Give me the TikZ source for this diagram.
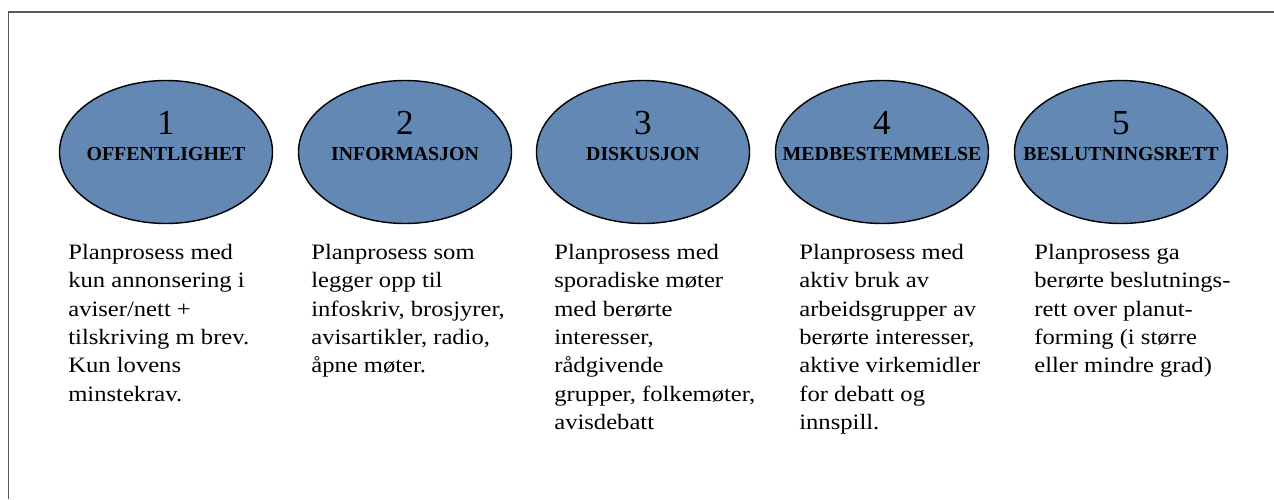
\documentclass[tikz,border=0pt]{standalone}
\usepackage{fontspec}
\setmainfont{Liberation Serif}
\newfontfamily\bodyfont[FakeStretch=1.12]{Liberation Serif}
\usetikzlibrary{shapes}

\definecolor{ovalblue}{RGB}{99,136,180}
\definecolor{framegray}{RGB}{90,90,90}

\tikzset{
  oval/.style={ellipse, draw=black, line width=0.8pt, fill=ovalblue,
    minimum width=4.26cm, minimum height=2.86cm, inner sep=0pt},
  numtext/.style={font=\fontsize{20}{20}\selectfont, inner sep=0pt},
  titletext/.style={font=\bfseries\fontsize{11.3}{11.3}\selectfont, inner sep=0pt},
  desc/.style={anchor=north west, align=left, inner sep=0pt,
    font=\bodyfont\fontsize{12.5}{16.1}\selectfont}
}

\begin{document}
\begin{tikzpicture}
      \useasboundingbox (0, 0) rectangle (25.48, -9.98);

      % Ramme
      \draw[framegray, line width=0.9pt] (0.17, -9.98) -- (0.17, -0.24) -- (25.48, -0.24);

      % Ovaler
      \node[oval] (O1) at (3.32, -3.04) {};
      \node[oval] (O2) at (8.10, -3.04) {};
      \node[oval] (O3) at (12.86, -3.04) {};
      \node[oval] (O4) at (17.64, -3.04) {};
      \node[oval] (O5) at (22.42, -3.04) {};

      % Nummer og trinn
      \node[numtext] (N1) at (3.32, -2.46) {1};
      \node[numtext] (N2) at (8.10, -2.46) {2};
      \node[numtext] (N3) at (12.86, -2.46) {3};
      \node[numtext] (N4) at (17.64, -2.46) {4};
      \node[numtext] (N5) at (22.42, -2.46) {5};
      \node[titletext] (T1) at (3.32, -3.08) {OFFENTLIGHET};
      \node[titletext] (T2) at (8.10, -3.08) {INFORMASJON};
      \node[titletext] (T3) at (12.86, -3.08) {DISKUSJON};
      \node[titletext] (T4) at (17.64, -3.08) {MEDBESTEMMELSE};
      \node[titletext] (T5) at (22.42, -3.08) {BESLUTNINGSRETT};

      % Beskrivelser
      \node[desc] (D1) at (1.36, -4.88) {Planprosess med\\kun annonsering i\\aviser/nett +\\tilskriving m brev.\\Kun lovens\\minstekrav.};
      \node[desc] (D2) at (6.22, -4.88) {Planprosess som\\legger opp til\\infoskriv, brosjyrer,\\avisartikler, radio,\\åpne møter.};
      \node[desc] (D3) at (11.08, -4.88) {Planprosess med\\sporadiske møter\\med berørte\\interesser,\\rådgivende\\grupper, folkemøter,\\avisdebatt};
      \node[desc] (D4) at (15.98, -4.88) {Planprosess med\\aktiv bruk av\\arbeidsgrupper av\\berørte interesser,\\aktive virkemidler\\for debatt og\\innspill.};
      \node[desc] (D5) at (20.68, -4.88) {Planprosess ga\\berørte beslutnings-\\rett over planut-\\forming (i større\\eller mindre grad)};
    \end{tikzpicture}
\end{document}
